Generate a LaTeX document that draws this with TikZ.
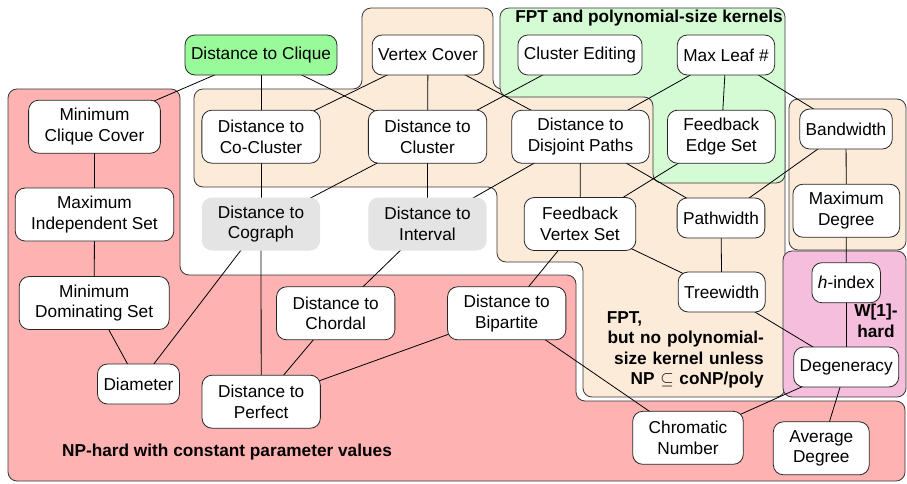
\documentclass[tikz,border=0pt]{standalone}
\usepackage{fontspec}
\setmainfont{Liberation Sans}
\usepackage{amssymb}
\definecolor{npred}{RGB}{255,178,178}
\definecolor{fptor}{RGB}{253,235,218}
\definecolor{polygr}{RGB}{213,251,213}
\definecolor{wpink}{RGB}{245,190,220}
\definecolor{cliquegr}{RGB}{153,250,153}
\definecolor{grayn}{RGB}{228,228,228}
\definecolor{regline}{RGB}{55,55,55}
\pgfdeclarelayer{regions}
\pgfdeclarelayer{edges}
\pgfsetlayers{regions,edges,main}
\begin{document}
\begin{tikzpicture}[x=1pt,y=-1pt,
  every node/.style={font=\fontsize{17.25}{20.5}\selectfont},
  region/.style={draw=regline, line width=0.8pt, rounded corners=9pt},
  pbox/.style={draw=black!85, fill=white, rounded corners=10pt, line width=0.8pt, align=center, inner ysep=2pt},
  one/.style={pbox, inner xsep=6pt, minimum height=40pt},
  two/.style={pbox, inner xsep=16pt, minimum height=53pt},
  grayone/.style={two, fill=grayn, draw=none},
  edge/.style={draw=black, line width=0.8pt},
  lab/.style={font=\fontsize{17.25}{20.5}\selectfont\bfseries, inner sep=0pt}
]
\useasboundingbox (0,0) rectangle (907,483);
\begin{pgfonlayer}{regions}
% NP-hard region
\path[region, fill=npred] (8,89) -- (180,89) -- (180,275) -- (576,275) -- (576,401) -- (905,401) -- (905,481) -- (8,481) -- cycle;
% FPT, no polynomial kernel
\path[region, fill=fptor] (194,89) -- (362,89) -- (362,8) -- (493,8) -- (493,89) -- (785,89) -- (785,397) -- (583,397) -- (583,262) -- (497,262) -- (497,187) -- (194,187) -- cycle;
\path[region, fill=fptor] (789,99) rectangle (906,250);
% polynomial kernels
\path[region, fill=polygr] (500,8) -- (785,8) -- (785,183) -- (653,183) -- (653,97) -- (500,97) -- cycle;
% W[1]-hard
\path[region, fill=wpink] (783,251) rectangle (906,397);
\end{pgfonlayer}

% nodes
\node[one, fill=cliquegr] (dcq) at (261,55) {Distance to Clique};
\node[one] (vc) at (428,55) {Vertex Cover};
\node[one] (ce) at (580,55) {Cluster Editing};
\node[one] (ml) at (726,55) {Max Leaf \#};
\node[two] (mcc) at (94.5,126.7) {Minimum\\Clique Cover};
\node[two] (dcc) at (261,136.7) {Distance to\\Co-Cluster};
\node[two] (dcl) at (427.5,136.7) {Distance to\\Cluster};
\node[two] (ddp) at (580.5,136.7) {Distance to\\Disjoint Paths};
\node[two] (fes) at (721.3,136.7) {Feedback\\Edge Set};
\node[one] (bw) at (846,129) {Bandwidth};
\node[two] (mis) at (94.5,214.5) {Maximum\\Independent Set};
\node[grayone] (dcg) at (261,224) {Distance to\\Cograph};
\node[grayone] (di) at (427.5,224) {Distance to\\Interval};
\node[two] (fvs) at (580,224) {Feedback\\Vertex Set};
\node[one] (pw) at (721,218) {Pathwidth};
\node[two] (md) at (846.3,210.7) {Maximum\\Degree};
\node[two] (mds) at (94.2,303) {Minimum\\Dominating Set};
\node[two] (dch) at (335.7,313.3) {Distance to\\Chordal};
\node[two] (dbp) at (506.7,313.3) {Distance to\\Bipartite};
\node[one] (tw) at (721.7,292) {Treewidth};
\node[one] (hi) at (846.2,282.7) {\textit{h}-index};
\node[one] (dia) at (138.5,384) {Diameter};
\node[two] (dpf) at (261.2,401.7) {Distance to\\Perfect};
\node[one] (dg) at (846.2,367) {Degeneracy};
\node[two] (cn) at (688,437.8) {Chromatic\\Number};
\node[two] (ad) at (821.3,448.3) {Average\\Degree};

% labels
\node[lab] (lpoly) at (649,18) {FPT and polynomial-size kernels};
\node[lab] (lnp) at (227,452) {NP-hard with constant parameter values};
\node[lab, align=center] (lw1) at (876,321) {W[1]-\\hard};
\node[lab, align=left, text width=157pt, anchor=north east] (lfpt) at (764,311) {FPT,\\\hspace*{0pt plus 1filll}but no polynomial-\\\hspace*{0pt plus 1filll}size kernel unless\\\hspace*{0pt plus 1filll}NP $\subseteq$ coNP/poly};

% edges
\begin{pgfonlayer}{edges}
\foreach \a/\b in {dcq/mcc, dcq/dcc, dcq/dcl, vc/dcc, vc/dcl, vc/ddp, ce/dcl, ml/ddp, ml/fes, ml/bw,
  mcc/mis, mis/mds, mds/dia, dcc/dcg, dcl/dcg, dcl/di, ddp/di, ddp/fvs, ddp/pw, fes/fvs, bw/pw, bw/md,
  md/hi, hi/dg, pw/tw, fvs/tw, fvs/dbp, tw/dg, dg/cn, dg/ad, dbp/cn, dbp/dpf, dch/dpf, di/dch, dcg/dia, dcg/dpf}
  \draw[edge] (\a.center) -- (\b.center);
\end{pgfonlayer}
\end{tikzpicture}
\end{document}
